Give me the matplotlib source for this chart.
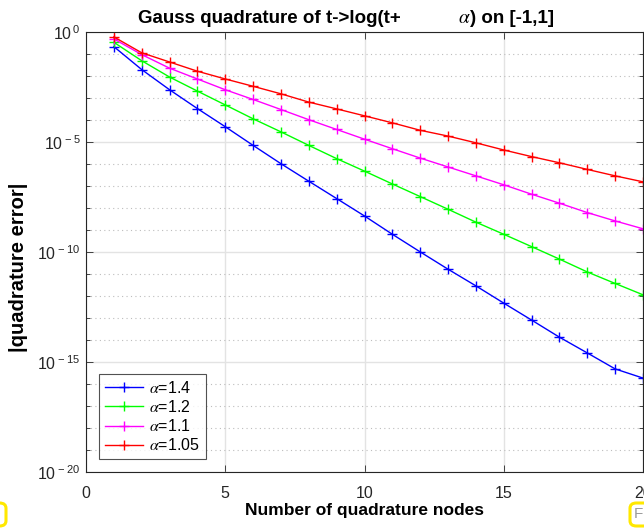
import math
import matplotlib
matplotlib.use("Agg")
import matplotlib.pyplot as plt
from matplotlib.ticker import FixedLocator, FuncFormatter, NullFormatter
from matplotlib.patches import FancyBboxPatch

plt.rcParams['font.family'] = ['Liberation Sans', 'DejaVu Sans']
plt.rcParams['mathtext.fontset'] = 'stix'

# Number of Gauss nodes
nodes = list(range(1, 21))

# |quadrature error| for each shift alpha
err_a140 = [2.1e-1, 1.9e-2, 2.3e-3, 3.2e-4, 4.8e-5, 6.8e-6, 1.0e-6, 1.6e-7, 2.6e-8, 4.2e-9,
            6.2e-10, 9.8e-11, 1.6e-11, 2.8e-12, 4.6e-13, 7.8e-14, 1.3e-14, 2.5e-15, 4.7e-16, 1.8e-16]
err_a120 = [3.3e-1, 4.8e-2, 8.7e-3, 2.0e-3, 4.7e-4, 1.1e-4, 2.8e-5, 6.8e-6, 1.7e-6, 4.6e-7,
            1.2e-7, 3.2e-8, 8.5e-9, 2.2e-9, 6.2e-10, 1.7e-10, 4.6e-11, 1.2e-11, 3.6e-12, 1.1e-12]
err_a110 = [4.7e-1, 9.1e-2, 2.2e-2, 7.1e-3, 2.3e-3, 8.3e-4, 2.9e-4, 1.0e-4, 3.6e-5, 1.3e-5,
            4.8e-6, 1.8e-6, 7.1e-7, 2.8e-7, 1.1e-7, 4.1e-8, 1.6e-8, 6.0e-9, 2.5e-9, 1.1e-9]
err_a105 = [5.8e-1, 1.1e-1, 4.2e-2, 1.6e-2, 7.1e-3, 3.3e-3, 1.5e-3, 6.3e-4, 3.1e-4, 1.5e-4,
            7.2e-5, 3.3e-5, 1.8e-5, 8.9e-6, 4.2e-6, 2.1e-6, 1.1e-6, 5.5e-7, 2.8e-7, 1.5e-7]

series = [
    (err_a140, (0, 0, 1), r'$\alpha$=1.4'),
    (err_a120, (0, 1, 0), r'$\alpha$=1.2'),
    (err_a110, (1, 0, 1), r'$\alpha$=1.1'),
    (err_a105, (1, 0, 0), r'$\alpha$=1.05'),
]

x_ticks = [0, 5, 10, 15, 20]
y_major = [1e-20, 1e-15, 1e-10, 1e-5, 1e0]
y_minor = [10.0 ** k for k in range(-20, 1) if k % 5 != 0]

W, H = 644, 529
fig = plt.figure(figsize=(W / 100, H / 100), dpi=100)
ax = fig.add_axes([86 / W, (H - 471.7) / H, (643 - 86) / W, (471.7 - 31.7) / H])

for err, col, lab in series:
    ax.semilogy(nodes, err, '-', color=col, lw=1.0, marker='+', ms=7.5, mew=1.0, label=lab)

ax.set_xlim(0, 20)
ax.set_ylim(1e-20, 1e0)
ax.xaxis.set_major_locator(FixedLocator(x_ticks))
ax.yaxis.set_major_locator(FixedLocator(y_major))
ax.yaxis.set_minor_locator(FixedLocator(y_minor))
ax.yaxis.set_minor_formatter(NullFormatter())


def pow10(v, pos):
    e = int(round(math.log10(v)))
    return r'$\mathregular{10^{\,%d}}$' % e


ax.yaxis.set_major_formatter(FuncFormatter(pow10))

ax.grid(True, which='major', color='#e3e3e3', lw=1.0, ls='-')
ax.grid(True, which='minor', axis='y', color='#bdbdbd', lw=0.8, ls=(0, (1, 3)))
ax.set_axisbelow(True)

ax.tick_params(which='both', direction='in', top=True, right=True, labelsize=11.5,
               colors='#262626', width=0.6)
ax.tick_params(which='major', length=5)
ax.tick_params(which='minor', length=3)
ax.tick_params(axis='x', pad=10)
ax.tick_params(axis='y', pad=4)
for s in ax.spines.values():
    s.set_color('#262626')
    s.set_linewidth(0.8)

ax.set_xlabel('Number of quadrature nodes', fontsize=12.5, fontweight='bold', labelpad=2)
ax.set_ylabel('|quadrature error|', fontsize=14.5, fontweight='bold')
ax.yaxis.set_label_coords((18.5 - 86) / 557, (471.7 - 267) / 440)
ax.yaxis.label.set_verticalalignment('center')

# title drawn in pieces: text, the Greek alpha, closing text
ty = (H - 23.3) / H
fig.text(138 / W, ty, 'Gauss quadrature of t->log(t+', fontsize=13.5,
         fontweight='bold', ha='left', va='baseline', color='black')
fig.text(464.5 / W, ty, r'$\alpha$', fontsize=14, ha='center', va='baseline', color='black')
fig.text(470.5 / W, ty, ') on [-1,1]', fontsize=13.5, fontweight='bold',
         ha='left', va='baseline', color='black')

leg = ax.legend(loc='lower left', bbox_to_anchor=((99 - 86) / 557, (471.7 - 459) / 440),
                borderaxespad=0, fontsize=11.5, frameon=True, fancybox=False,
                edgecolor='#262626', handlelength=2.4, borderpad=0.35,
                labelspacing=0.2, handletextpad=0.4)
leg.get_frame().set_linewidth(0.8)

# small yellow-rimmed note boxes at the lower corners of the figure
fig.patches.append(FancyBboxPatch((-12 / W, (H - 526) / H), 18 / W, 23 / H,
                                  boxstyle='round,pad=0,rounding_size=0.01',
                                  transform=fig.transFigure, fill=False,
                                  edgecolor='#ffe800', lw=2.2))
fig.patches.append(FancyBboxPatch((630 / W, (H - 526) / H), 24 / W, 23 / H,
                                  boxstyle='round,pad=0,rounding_size=0.01',
                                  transform=fig.transFigure, facecolor='white',
                                  edgecolor='#ffe800', lw=2.2))
fig.text(634 / W, (H - 514.5) / H, 'F', color='#9a9a9a', fontsize=11, va='center', ha='left')

fig.savefig('out.png', dpi=100)
